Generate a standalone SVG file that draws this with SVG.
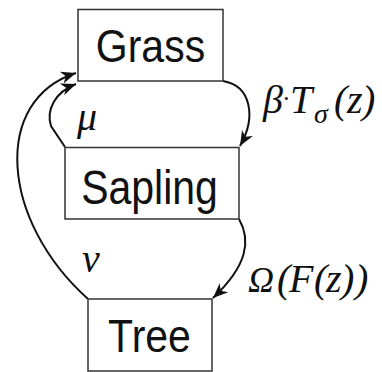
<svg xmlns="http://www.w3.org/2000/svg" width="382" height="372" viewBox="0 0 382 372">
<defs>
<style>
.box{fill:#fff;stroke:#333;stroke-width:1.5}
.lbl{font-family:"Liberation Sans",Arial,sans-serif;font-size:41px;fill:#111;text-anchor:middle}
.m{font-family:"Liberation Serif","Times New Roman",serif;font-style:italic;font-size:40px;fill:#111}
.u{font-style:normal}
.c{fill:none;stroke:#111;stroke-width:2}
</style>
<marker id="ah" markerUnits="userSpaceOnUse" markerWidth="20" markerHeight="20" refX="0" refY="0" orient="auto" viewBox="-14 -7 16 14" overflow="visible">
<path d="M0,0 L-12,-5 L-8.5,0 L-12,5 Z" fill="#111"/>
</marker>
</defs>
<rect width="382" height="372" fill="#fff"/>
<g id="connectors">
<path class="c" d="M223,81 C252,86 256,118 240,146" marker-end="url(#ah)"/>
<path class="c" d="M65,147 L51,126 C46,110 55,92 76,84" marker-end="url(#ah)"/>
<path class="c" d="M88,299 C0,220 -8,100 76,73" marker-end="url(#ah)"/>
<path class="c" d="M239,219 C251,240 248,265 213,298" marker-end="url(#ah)"/>
</g>
<g id="grass">
<rect class="box" x="78" y="9.5" width="145" height="71.5"/>
<text class="lbl" transform="translate(150.5,62) scale(1,1.12)">Grass</text>
</g>
<g id="sapling">
<rect class="box" x="65" y="147.5" width="174" height="71.5"/>
<text class="lbl" transform="translate(149.5,203.5) scale(1,1.15)">Sapling</text>
</g>
<g id="tree">
<rect class="box" x="88" y="299" width="124" height="72"/>
<text class="lbl" transform="translate(149.5,352) scale(1,1.12)">Tree</text>
</g>
<g id="labels">
<text class="m" x="263" y="113">β<tspan class="u" x="282" y="107" font-size="26">·</tspan><tspan x="290" y="113">T</tspan><tspan x="314" y="123" font-size="28">σ</tspan><tspan x="334" y="113">(</tspan><tspan x="347" y="113">z</tspan><tspan x="362" y="113">)</tspan></text>
<text class="m" x="77" y="130">μ</text>
<text class="m" x="82" y="272">ν</text>
<text class="m" x="248" y="292"><tspan font-size="36">Ω</tspan><tspan x="277">(</tspan><tspan x="289">F</tspan><tspan x="314">(</tspan><tspan x="326">z</tspan><tspan x="341">)</tspan><tspan x="355">)</tspan></text>
</g>
</svg>
